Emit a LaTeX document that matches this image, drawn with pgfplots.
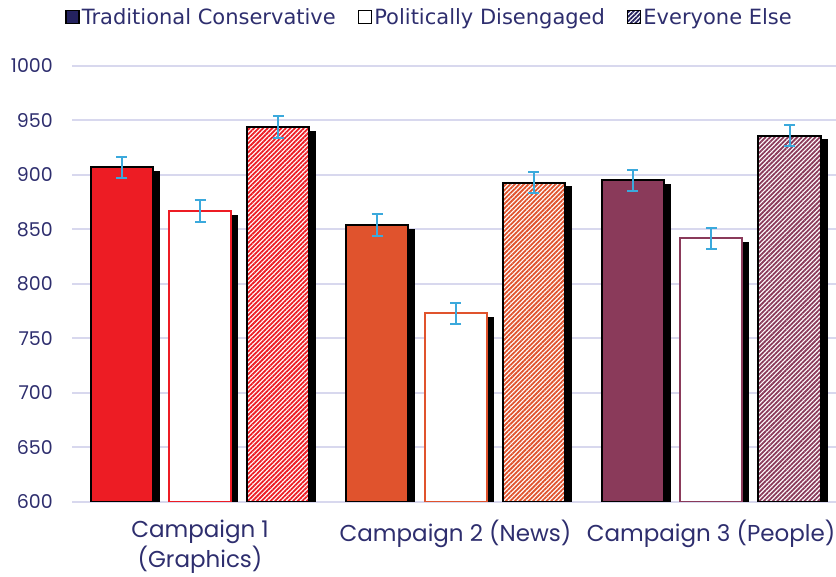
\documentclass[border=0pt]{standalone}
\usepackage{pgfplots}
\pgfplotsset{compat=1.18}
\usepackage{fontspec}
\setmainfont{Poppins}
\newfontfamily\legfont{DejaVu Sans}
\usetikzlibrary{patterns.meta}
\definecolor{cred}{HTML}{ED1C24}
\definecolor{corange}{HTML}{E0532D}
\definecolor{cmaroon}{HTML}{8A3A5A}
\definecolor{errblue}{HTML}{3BA9DC}
\definecolor{navy}{HTML}{2E2E6E}
\definecolor{legnavy}{HTML}{24225F}
\definecolor{gridc}{HTML}{D8D8EE}
\begin{document}
\begin{tikzpicture}
\path[use as bounding box] (0,0) rectangle (836bp,577bp);
\begin{axis}[
  at={(72bp,75bp)}, anchor=south west,
  scale only axis, width=764bp, height=436bp,
  xmin=-0.501, xmax=2.489, ymin=600, ymax=1000,
  ytick={600,650,...,1000},
  xtick={0,1,2},
  xticklabels={{Campaign 1\\(Graphics)},{Campaign 2 (News)},{Campaign 3 (People)}},
  xticklabel style={align=center, font=\fontsize{23bp}{29.5bp}\selectfont, text=navy, anchor=north, inner sep=0pt, yshift=-18bp},
  yticklabel style={font=\fontsize{19bp}{22bp}\selectfont, text=navy, inner sep=0pt, xshift=-19bp},
  /pgf/number format/assume math mode=true,
  /pgf/number format/1000 sep={},
  axis line style={draw=none},
  major tick length=0pt,
  ymajorgrids, grid style={gridc, line width=2bp},
  ybar, bar width=0.2427, bar shift=0pt,
  legend style={draw=none, fill=none, legend columns=3,
    at={(axis description cs:0.468,1)}, anchor=center, yshift=49bp,
    font=\legfont\fontsize{21bp}{24bp}\selectfont, text=navy,
    /tikz/every even column/.append style={column sep=20bp}},
  legend cell align=left,
  err/.style={error bars/.cd, y dir=both, y explicit,
    error bar style={errblue, line width=2bp},
    error mark options={errblue, rotate=90, mark size=5.5bp, line width=2bp}},
]
\addlegendimage{legend image code/.code={\draw[fill=legnavy, draw=black, line width=1.5bp] (0bp,-6.5bp) rectangle (13bp,6.5bp);}}
\addlegendentry{Traditional Conservative}
\addlegendimage{legend image code/.code={\draw[fill=white, draw=black, line width=1.5bp] (0bp,-6.5bp) rectangle (13bp,6.5bp);}}
\addlegendentry{Politically Disengaged}
\addlegendimage{legend image code/.code={\draw[preaction={fill=white}, pattern={Lines[angle=45,distance=3.2bp,line width=1.8bp]}, pattern color=legnavy, draw=black, line width=1.5bp] (0bp,-6.5bp) rectangle (13bp,6.5bp);}}
\addlegendentry{Everyone Else}

% shadows
\addplot[fill=black, draw=black, line width=2bp, bar shift=0pt, forget plot] coordinates {
(-0.2835,902.7) (0.0235,862.7) (0.3305,939.7)
(0.7165,849.7) (1.0235,768.7) (1.3305,888.7)
(1.7165,890.7) (2.0235,837.7) (2.3305,931.7)};

% Campaign 1
\addplot[fill=cred, draw=black, line width=2bp, bar shift=0pt, forget plot, err] coordinates {(-0.307,907) +- (0,9.8)};
\addplot[fill=white, draw=cred, line width=2bp, bar shift=0pt, forget plot, err] coordinates {(0,867) +- (0,9.8)};
\addplot[preaction={fill=white}, pattern={Lines[angle=45,distance=3.2bp,line width=1.8bp]}, pattern color=cred, draw=black, line width=2bp, bar shift=0pt, forget plot, err] coordinates {(0.307,944) +- (0,9.8)};
% Campaign 2
\addplot[fill=corange, draw=black, line width=2bp, bar shift=0pt, forget plot, err] coordinates {(0.693,854) +- (0,9.8)};
\addplot[fill=white, draw=corange, line width=2bp, bar shift=0pt, forget plot, err] coordinates {(1,773) +- (0,9.8)};
\addplot[preaction={fill=white}, pattern={Lines[angle=45,distance=3.2bp,line width=1.8bp]}, pattern color=corange, draw=black, line width=2bp, bar shift=0pt, forget plot, err] coordinates {(1.307,893) +- (0,9.8)};
% Campaign 3
\addplot[fill=cmaroon, draw=black, line width=2bp, bar shift=0pt, forget plot, err] coordinates {(1.693,895) +- (0,9.8)};
\addplot[fill=white, draw=cmaroon, line width=2bp, bar shift=0pt, forget plot, err] coordinates {(2,842) +- (0,9.8)};
\addplot[preaction={fill=white}, pattern={Lines[angle=45,distance=3.2bp,line width=1.8bp]}, pattern color=cmaroon, draw=black, line width=2bp, bar shift=0pt, forget plot, err] coordinates {(2.307,936) +- (0,9.8)};
\end{axis}
\end{tikzpicture}
\end{document}
